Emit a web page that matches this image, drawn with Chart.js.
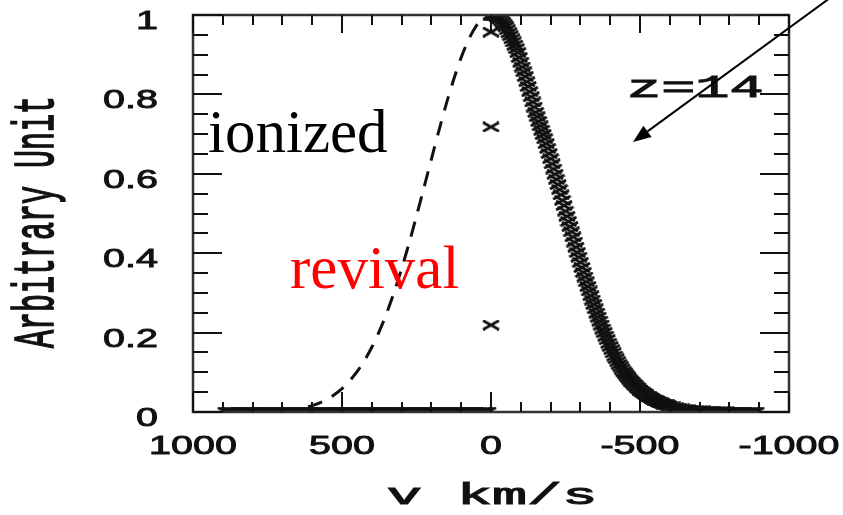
<!DOCTYPE html>
<html>
<head>
<meta charset="utf-8">
<script src="https://cdn.jsdelivr.net/npm/chart.js@4.4.1/dist/chart.umd.min.js"></script>
<style>
  html, body { margin: 0; padding: 0; background: #fff; }
  #chart { display: block; }
</style>
</head>
<body>
<canvas id="chart" width="843" height="515"></canvas>
<script>
// Line profile on the red side (km/s), drawn with cross markers
const crossV = [
  0, -5, -10, -15, -20, -25, -30, -35, -40, -45,
  -50, -55, -60, -65, -70, -75, -80, -85, -90, -95,
  -100, -105, -110, -115, -120, -125, -130, -135, -140, -145,
  -150, -155, -160, -165, -170, -175, -180, -185, -190, -195,
  -200, -205, -210, -215, -220, -225, -230, -235, -240, -245,
  -250, -255, -260, -265, -270, -275, -280, -285, -290, -295,
  -300, -305, -310, -315, -320, -325, -330, -335, -340, -345,
  -350, -355, -360, -365, -370, -375, -380, -385, -390, -395,
  -400, -405, -410, -415, -420, -425, -430, -435, -440, -445,
  -450, -455, -460, -465, -470, -475, -480, -485, -490, -495,
  -500, -505, -510, -515, -520, -525, -530, -535, -540, -545,
  -550, -555, -560, -565, -570, -575, -580, -585, -590, -595,
  -600, -610, -620, -630, -640, -650, -660, -670, -680, -690,
  -700, -710, -720, -730, -740, -750, -760, -770, -780, -790,
  -800, -810, -820, -830, -840, -850, -860, -870, -880, -890
];
const crossVal = [
  1.000, 1.000, 1.000, 0.998, 0.996, 0.993, 0.990, 0.985, 0.980, 0.975,
  0.970, 0.963, 0.955, 0.948, 0.940, 0.932, 0.924, 0.915, 0.905, 0.893,
  0.881, 0.869, 0.857, 0.845, 0.832, 0.820, 0.807, 0.794, 0.781, 0.768,
  0.755, 0.744, 0.732, 0.721, 0.710, 0.699, 0.688, 0.676, 0.664, 0.651,
  0.638, 0.625, 0.612, 0.599, 0.586, 0.573, 0.560, 0.547, 0.533, 0.520,
  0.506, 0.493, 0.480, 0.467, 0.454, 0.441, 0.428, 0.415, 0.402, 0.390,
  0.377, 0.364, 0.352, 0.340, 0.328, 0.316, 0.305, 0.293, 0.282, 0.271,
  0.260, 0.249, 0.239, 0.229, 0.219, 0.209, 0.200, 0.191, 0.182, 0.173,
  0.165, 0.157, 0.149, 0.141, 0.134, 0.127, 0.120, 0.114, 0.108, 0.102,
  0.097, 0.092, 0.087, 0.082, 0.078, 0.074, 0.070, 0.066, 0.062, 0.058,
  0.055, 0.052, 0.049, 0.046, 0.043, 0.040, 0.038, 0.036, 0.034, 0.032,
  0.030, 0.028, 0.026, 0.024, 0.023, 0.021, 0.020, 0.019, 0.018, 0.016,
  0.015, 0.013, 0.011, 0.010, 0.008, 0.007, 0.006, 0.005, 0.004, 0.004,
  0.003, 0.003, 0.002, 0.002, 0.002, 0.001, 0.001, 0.001, 0.001, 0.001,
  0, 0, 0, 0, 0, 0, 0, 0, 0, 0
];

// Blue side: crosses sitting on the zero level
const flatV = [
  890, 880, 870, 860, 850, 840, 830, 820, 810, 800,
  790, 780, 770, 760, 750, 740, 730, 720, 710, 700,
  690, 680, 670, 660, 650, 640, 630, 620, 610, 600,
  590, 580, 570, 560, 550, 540, 530, 520, 510, 500,
  490, 480, 470, 460, 450, 440, 430, 420, 410, 400,
  390, 380, 370, 360, 350, 340, 330, 320, 310, 300,
  290, 280, 270, 260, 250, 240, 230, 220, 210, 200,
  190, 180, 170, 160, 150, 140, 130, 120, 110, 100,
  90, 80, 70, 60, 50, 40, 30, 20, 10
];
const flatVal = 0;

// Stray points stacked at v = 0
const spikeV = [0, 0, 0];
const spikeVal = [0.957, 0.718, 0.219];

// Dashed revival profile
const dashV = [700, 650, 625, 600, 575, 550, 525, 500, 475, 450, 425, 400, 375, 350,
  325, 300, 275, 250, 225, 200, 175, 150, 125, 100, 75, 50, 25, 0];
const dashVal = [0.003, 0.007, 0.011, 0.016, 0.023, 0.032, 0.044, 0.059, 0.078, 0.101,
  0.129, 0.163, 0.203, 0.249, 0.302, 0.361, 0.425, 0.494, 0.565, 0.637, 0.708, 0.776,
  0.838, 0.893, 0.938, 0.972, 0.993, 1.000];

// Axis ticks
const xTickLabels = [1000, 500, 0, -500, -1000];
const xMinorTicks = [900, 800, 700, 600, 400, 300, 200, 100, -100, -200, -300, -400, -600, -700, -800, -900];
const yTickLabels = [0, 0.2, 0.4, 0.6, 0.8, 1];
const yMinorTicks = [0.05, 0.1, 0.15, 0.25, 0.3, 0.35, 0.45, 0.5, 0.55, 0.65, 0.7, 0.75, 0.85, 0.9, 0.95];

const INK = '#111';

// small wide "x" used as the point style
function makeCross(w, h, lw) {
  const c = document.createElement('canvas');
  c.width = w;
  c.height = h;
  const g = c.getContext('2d');
  g.strokeStyle = INK;
  g.lineWidth = lw;
  g.beginPath();
  g.moveTo(1, 1); g.lineTo(w - 1, h - 1);
  g.moveTo(w - 1, 1); g.lineTo(1, h - 1);
  g.stroke();
  return c;
}
const crossMark = makeCross(18, 11, 2.8);

function pairs(xs, ys) {
  return xs.map((x, i) => ({ x: x, y: Array.isArray(ys) ? ys[i] : ys }));
}

// text stretched along x, as the plotting package drew it;
// a thin outline gives the medium stroke weight
function wideText(ctx, text, x, y, sx, align, weight) {
  ctx.save();
  ctx.translate(x, y);
  ctx.scale(sx, 1);
  ctx.textAlign = align;
  ctx.textBaseline = 'alphabetic';
  ctx.fillText(text, 0, 0);
  if (weight) {
    ctx.lineWidth = weight;
    ctx.strokeStyle = ctx.fillStyle;
    ctx.strokeText(text, 0, 0);
  }
  ctx.restore();
}

const framePlugin = {
  id: 'frame',
  afterDatasetsDraw(chart) {
    const ctx = chart.ctx;
    const a = chart.chartArea;
    const xs = chart.scales.x;
    const ys = chart.scales.y;

    ctx.save();
    // box
    ctx.strokeStyle = '#333';
    ctx.lineWidth = 2.5;
    ctx.strokeRect(a.left, a.top, a.right - a.left, a.bottom - a.top);

    // inward ticks
    ctx.strokeStyle = INK;
    ctx.lineWidth = 2;
    ctx.beginPath();
    const xTick = (v, lb, lt) => {
      const px = Math.round(xs.getPixelForValue(v));
      ctx.moveTo(px, a.bottom); ctx.lineTo(px, a.bottom - lb);
      ctx.moveTo(px, a.top); ctx.lineTo(px, a.top + lt);
    };
    const yTick = (v, len) => {
      const py = Math.round(ys.getPixelForValue(v));
      ctx.moveTo(a.left, py); ctx.lineTo(a.left + len, py);
      ctx.moveTo(a.right, py); ctx.lineTo(a.right - len, py);
    };
    xMinorTicks.forEach(v => xTick(v, 10, 10));
    xTickLabels.forEach(v => xTick(v, 20, 18));
    yMinorTicks.forEach(v => yTick(v, 15));
    yTickLabels.forEach(v => yTick(v, 29));
    ctx.stroke();

    // tick labels
    ctx.fillStyle = INK;
    ctx.font = '25px "Liberation Sans", Arial, sans-serif';
    xTickLabels.forEach(v => {
      wideText(ctx, String(v), xs.getPixelForValue(v), a.bottom + 42, 1.58, 'center', 0.9);
    });
    yTickLabels.forEach(v => {
      wideText(ctx, String(v), 158, ys.getPixelForValue(v) + 14, 1.58, 'right', 0.9);
    });

    // axis titles
    ctx.font = '30px "Liberation Mono", monospace';
    wideText(ctx, 'v km/s', 492, 504, 1.95, 'center', 1);
    ctx.save();
    ctx.translate(53, 222);
    ctx.rotate(-Math.PI / 2);
    ctx.scale(1, 1.9);
    ctx.textAlign = 'center';
    ctx.textBaseline = 'alphabetic';
    ctx.fillText('Arbitrary Unit', 0, 0);
    ctx.lineWidth = 0.9;
    ctx.strokeStyle = INK;
    ctx.strokeText('Arbitrary Unit', 0, 0);
    ctx.restore();

    // redshift tag
    ctx.font = '32px "Liberation Mono", monospace';
    wideText(ctx, 'z=14', 627, 97, 1.78, 'left', 1);

    // annotations
    ctx.font = '61px "Liberation Serif", "Times New Roman", serif';
    ctx.textAlign = 'left';
    ctx.fillStyle = '#000';
    ctx.fillText('ionized', 208, 152);
    ctx.fillStyle = '#ff0000';
    ctx.fillText('revival', 290, 288);

    // pointer arrow
    const tip = { x: 633, y: 142 };
    const from = { x: 845, y: -13 };
    const ang = Math.atan2(tip.y - from.y, tip.x - from.x);
    const headLen = 18, headHalf = 7;
    const bx = tip.x - headLen * Math.cos(ang);
    const by = tip.y - headLen * Math.sin(ang);
    ctx.strokeStyle = '#000';
    ctx.lineWidth = 2;
    ctx.beginPath();
    ctx.moveTo(from.x, from.y);
    ctx.lineTo(bx, by);
    ctx.stroke();
    ctx.fillStyle = '#000';
    ctx.beginPath();
    ctx.moveTo(tip.x, tip.y);
    ctx.lineTo(bx + headHalf * Math.sin(ang), by - headHalf * Math.cos(ang));
    ctx.lineTo(bx - headHalf * Math.sin(ang), by + headHalf * Math.cos(ang));
    ctx.closePath();
    ctx.fill();
    ctx.restore();
  }
};

new Chart(document.getElementById('chart'), {
  type: 'scatter',
  data: {
    datasets: [
      {
        label: 'revival',
        data: pairs(dashV, dashVal),
        showLine: true,
        borderColor: INK,
        borderWidth: 3,
        borderDash: [15, 11],
        tension: 0.3,
        pointRadius: 0
      },
      {
        label: 'profile',
        data: pairs(crossV, crossVal),
        pointStyle: crossMark,
        pointRadius: 5
      },
      {
        label: 'zero level',
        data: pairs(flatV, flatVal),
        pointStyle: crossMark,
        pointRadius: 5
      },
      {
        label: 'v = 0',
        data: pairs(spikeV, spikeVal),
        pointStyle: crossMark,
        pointRadius: 5
      }
    ]
  },
  options: {
    responsive: false,
    animation: false,
    devicePixelRatio: 1,
    layout: { padding: { left: 193, right: 54, top: 15, bottom: 103 } },
    plugins: { legend: { display: false }, tooltip: { enabled: false } },
    scales: {
      x: { type: 'linear', min: -1000, max: 1000, reverse: true, display: false },
      y: { type: 'linear', min: 0, max: 1, display: false }
    }
  },
  plugins: [framePlugin]
});
</script>
</body>
</html>
